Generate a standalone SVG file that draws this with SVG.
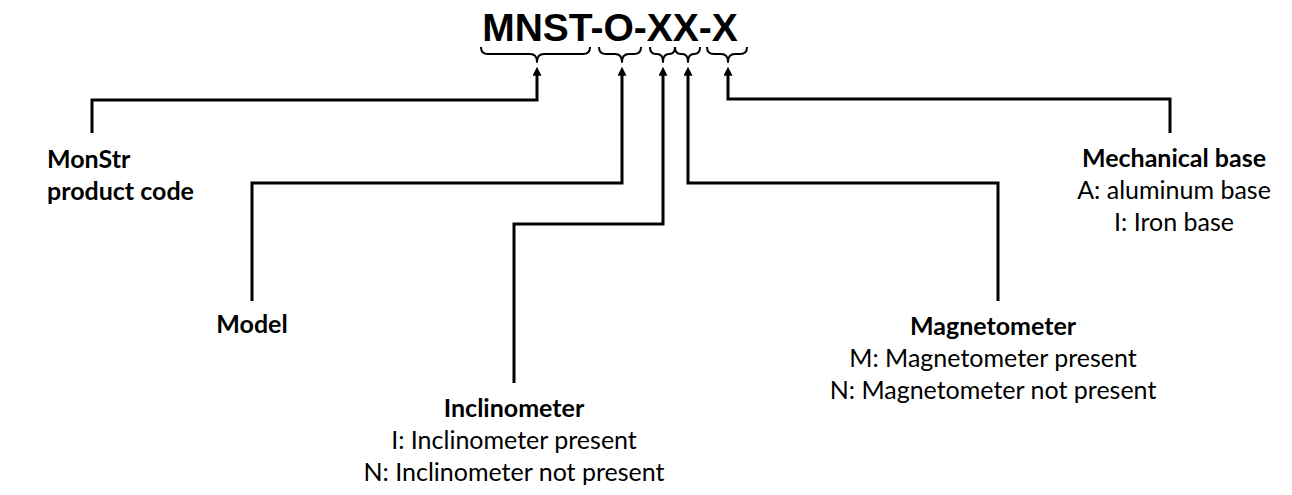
<svg xmlns="http://www.w3.org/2000/svg" width="1292" height="495" viewBox="0 0 1292 495">
<style>
  .title { font-family: "Liberation Sans", Arial, sans-serif; font-weight: bold; font-size: 39px; fill: #000; }
  .h { font-family: Lato, "Open Sans", sans-serif; font-weight: bold; font-size: 25px; fill: #000; }
  .t { font-family: Lato, "Open Sans", sans-serif; font-size: 25px; fill: #000; }
  .brace { fill: none; stroke: #000; stroke-width: 2; stroke-linejoin: round; }
  .conn { fill: none; stroke: #000; stroke-width: 3; stroke-linejoin: miter; }
</style>
<defs>
  <marker id="arr" viewBox="0 0 10 10" refX="2" refY="5" markerWidth="9" markerHeight="9" markerUnits="userSpaceOnUse" orient="auto">
    <path d="M0,0 L10,5 L0,10 Z" fill="#000"/>
  </marker>
</defs>
<rect width="1292" height="495" fill="#fff"/>
<g id="code">
  <text class="title" x="610" y="41" text-anchor="middle">MNST-O-XX-X</text>
</g>
<g id="braces">
  <path class="brace" d="M481,47 q0,7 7,7 H530 q7,0 7,8 q0,-8 7,-8 H583 q7,0 7,-7"/>
  <path class="brace" d="M599,47 q0,7 7,7 H615 q7,0 7,8 q0,-8 7,-8 H634 q7,0 7,-7"/>
  <path class="brace" d="M650,47 q0,7 6,7 H657 q6,0 6,8 q0,-8 6,-8 H669 q6,0 6,-7"/>
  <path class="brace" d="M675,47 q0,7 6,7 H682 q6,0 6,8 q0,-8 6,-8 H694 q6,0 6,-7"/>
  <path class="brace" d="M707,47 q0,7 7,7 H721 q7,0 7,8 q0,-8 7,-8 H740 q7,0 7,-7"/>
</g>
<g id="connectors">
  <path class="conn" d="M92,133 V100 H537 V74" marker-end="url(#arr)"/>
  <path class="conn" d="M252,301 V183 H622 V74" marker-end="url(#arr)"/>
  <path class="conn" d="M514,383 V224 H663 V74" marker-end="url(#arr)"/>
  <path class="conn" d="M998,301 V183 H688 V74" marker-end="url(#arr)"/>
  <path class="conn" d="M1170,133 V99 H728 V74" marker-end="url(#arr)"/>
</g>
<g id="monstr">
  <text class="h" x="47" y="168">MonStr</text>
  <text class="h" x="47" y="200">product code</text>
</g>
<g id="model">
  <text class="h" x="252" y="333" text-anchor="middle">Model</text>
</g>
<g id="inclinometer">
  <text class="h" x="514" y="417" text-anchor="middle">Inclinometer</text>
  <text class="t" x="514" y="449" text-anchor="middle">I: Inclinometer present</text>
  <text class="t" x="514" y="481" text-anchor="middle">N: Inclinometer not present</text>
</g>
<g id="magnetometer">
  <text class="h" x="993" y="335" text-anchor="middle">Magnetometer</text>
  <text class="t" x="993" y="367" text-anchor="middle">M: Magnetometer present</text>
  <text class="t" x="993" y="399" text-anchor="middle">N: Magnetometer not present</text>
</g>
<g id="mechanical">
  <text class="h" x="1174" y="167" text-anchor="middle">Mechanical base</text>
  <text class="t" x="1174" y="199" text-anchor="middle">A: aluminum base</text>
  <text class="t" x="1174" y="231" text-anchor="middle">I: Iron base</text>
</g>
</svg>
